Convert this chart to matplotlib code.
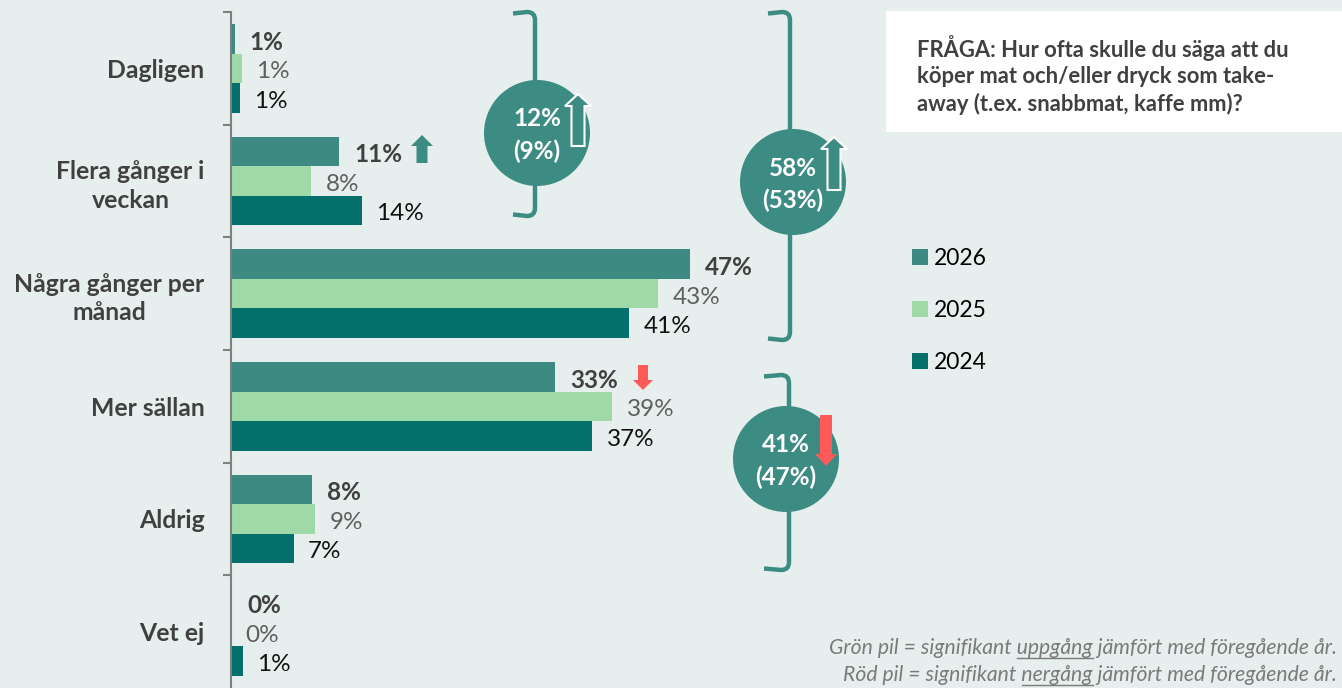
import numpy as np
import matplotlib

matplotlib.use("Agg")
import matplotlib.pyplot as plt
from matplotlib.patches import Circle, Rectangle, Polygon, PathPatch
from matplotlib.path import Path

plt.rcParams["font.family"] = ["Lato", "DejaVu Sans"]

# ---------------------------------------------------------------------------
# data
# ---------------------------------------------------------------------------
CATEGORIES = ["Dagligen", "Flera gånger i\nveckan", "Några gånger per\nmånad",
              "Mer sällan", "Aldrig", "Vet ej"]
YEARS = ["2026", "2025", "2024"]
# bar lengths (%)
V2026 = [0.4, 11.1, 47.0, 33.2, 8.3, 0.15]
V2025 = [1.1, 8.2, 43.7, 39.0, 8.6, 0.0]
V2024 = [0.9, 13.4, 40.7, 37.0, 6.4, 1.2]
# printed labels (%)
L2026 = [1, 11, 47, 33, 8, 0]
L2025 = [1, 8, 43, 39, 9, 0]
L2024 = [1, 14, 41, 37, 7, 1]

# grouped totals: current (previous)
GROUP_NOW = ["12%", "58%", "41%"]
GROUP_PREV = ["(9%)", "(53%)", "(47%)"]

QUESTION = ("FRÅGA: Hur ofta skulle du säga att du\n"
            "köper mat och/eller dryck som take-\n"
            "away (t.ex. snabbmat, kaffe mm)?")

BG = "#e7eeee"
C2026 = "#3c8a82"
C2025 = "#a0d9a8"
C2024 = "#03706b"
TEAL = "#3d8c84"
RED = "#ff5a5a"

W, H = 1342, 688
fig = plt.figure(figsize=(W / 100, H / 100), dpi=100, facecolor=BG)

# ---------------------------------------------------------------------------
# bars
# ---------------------------------------------------------------------------
ax = fig.add_axes([231 / W, 0, 900 / W, 676 / H])
ax.set_facecolor("none")
ax.set_xlim(0, 900 / 9.77)
ax.set_ylim(5.5, -0.5)

y = np.arange(len(CATEGORIES))
h = 29.5 / 112.7
series = [
    (V2026, L2026, C2026, -h, dict(color="#404040", fontweight="bold")),
    (V2025, L2025, C2025, 0.0, dict(color="#5f5f5f")),
    (V2024, L2024, C2024, h, dict(color="#111111")),
]
for (vals, labs, col, off, tstyle), year in zip(series, YEARS):
    ax.barh(y + off, vals, height=h, color=col, label=year)
    for yi, v, lab in zip(y, vals, labs):
        ax.annotate(f"{lab}%", (v, yi + off), xytext=(10.5, -2.5),
                    textcoords="offset points", va="center", ha="left",
                    fontsize=17.5, **tstyle)

for s in ("top", "right", "bottom"):
    ax.spines[s].set_visible(False)
ax.spines["left"].set_color("#808080")
ax.spines["left"].set_linewidth(1.5)
ax.set_xticks([])
ax.set_yticks(y)
ax.set_yticklabels(CATEGORIES, fontsize=17.8, fontweight="bold", color="#404040")
for t in ax.get_yticklabels():
    t.set_multialignment("center")
    t.set_linespacing(1.3)
ax.tick_params(axis="y", which="major", length=0, pad=19)
ax.set_yticks(np.arange(-0.5, 5.5, 1.0), minor=True)
ax.tick_params(axis="y", which="minor", length=6, width=1.5, color="#808080")

ax.legend(loc="upper left", bbox_to_anchor=(912 / W, 1 - 248 / H),
          bbox_transform=fig.transFigure, frameon=False, fontsize=16.5,
          handlelength=0.7, handleheight=0.7, handletextpad=0.25,
          labelspacing=1.35, borderpad=0, borderaxespad=0)

# ---------------------------------------------------------------------------
# decorations in pixel space
# ---------------------------------------------------------------------------
deco = fig.add_axes([0, 0, 1, 1])
deco.set_xlim(0, W)
deco.set_ylim(H, 0)
deco.axis("off")
deco.set_zorder(5)


def bracket(x, y0, y1, hook, r=8):
    verts = [(x - hook, y0 + 1.5), (x - r, y0), (x, y0), (x, y0 + r),
             (x, y1 - r), (x, y1), (x - r, y1), (x - hook, y1 - 1.5)]
    codes = [Path.MOVETO, Path.LINETO, Path.CURVE3, Path.CURVE3,
             Path.LINETO, Path.CURVE3, Path.CURVE3, Path.LINETO]
    deco.add_patch(PathPatch(Path(verts, codes), fill=False, ec=TEAL,
                             lw=3.2, capstyle="butt"))


def arrow(cx, tail, tip, shaft, head, head_len, fc, ec="none", lw=0):
    d = 1 if tip > tail else -1
    base = tip - d * head_len
    pts = [(cx - shaft / 2, tail), (cx - shaft / 2, base), (cx - head / 2, base),
           (cx, tip), (cx + head / 2, base), (cx + shaft / 2, base),
           (cx + shaft / 2, tail)]
    deco.add_patch(Polygon(pts, closed=True, fc=fc, ec=ec, lw=lw, zorder=4))


def bubble(cx, cy, now, prev):
    deco.add_patch(Circle((cx, cy), 53, fc=TEAL, ec="none", zorder=3))
    deco.text(cx, cy - 14, now, color="white", fontsize=17.5, fontweight="bold",
              ha="center", va="center", zorder=5)
    deco.text(cx, cy + 18, prev, color="white", fontsize=17.5, fontweight="bold",
              ha="center", va="center", zorder=5)


bracket(535, 12, 216, 22)
bracket(790, 12, 340, 22)
bracket(789, 375, 570, 25)

bubble(537, 133, GROUP_NOW[0], GROUP_PREV[0])
bubble(793, 182, GROUP_NOW[1], GROUP_PREV[1])
bubble(786, 459, GROUP_NOW[2], GROUP_PREV[2])

arrow(578, 146, 94, 13, 26, 12, TEAL, ec="white", lw=1.5)
arrow(834, 190, 137, 13, 26, 12, TEAL, ec="white", lw=1.5)
arrow(826, 415, 466, 12, 22, 12, RED)
arrow(422, 163, 135, 11, 22, 11, TEAL)
arrow(643, 365, 390, 10, 20, 10, RED)

# question box
deco.add_patch(Rectangle((886, 11), W - 886, 121, fc="white", ec="none", zorder=1))
deco.text(917, 75, QUESTION, fontsize=15.8, fontweight="bold", color="#404040",
          ha="left", va="center", linespacing=1.32, zorder=2)

# footnote with underlined words
notes = [("Grön pil = signifikant ", "uppgång", " jämfört med föregående år.", 648),
         ("Röd pil = signifikant ", "nergång", " jämfört med föregående år.", 675)]
renderer = fig.canvas.get_renderer()
for pre, word, post, yy in notes:
    style = dict(fontsize=15.2, fontstyle="italic", color="#7a7a7a", va="center")
    full = deco.text(1337, yy, pre + word + post, ha="right", **style)
    bb_full = full.get_window_extent(renderer)
    tmp = deco.text(0, 0, pre, ha="left", **style)
    w_pre = tmp.get_window_extent(renderer).width
    tmp.set_text(pre + word)
    w_word = tmp.get_window_extent(renderer).width
    tmp.remove()
    x0 = bb_full.x0 + w_pre
    x1 = bb_full.x0 + w_word
    deco.plot([x0, x1], [yy + 10, yy + 10], color="#7a7a7a", lw=1)

fig.savefig("out.png", dpi=100, facecolor=BG)
